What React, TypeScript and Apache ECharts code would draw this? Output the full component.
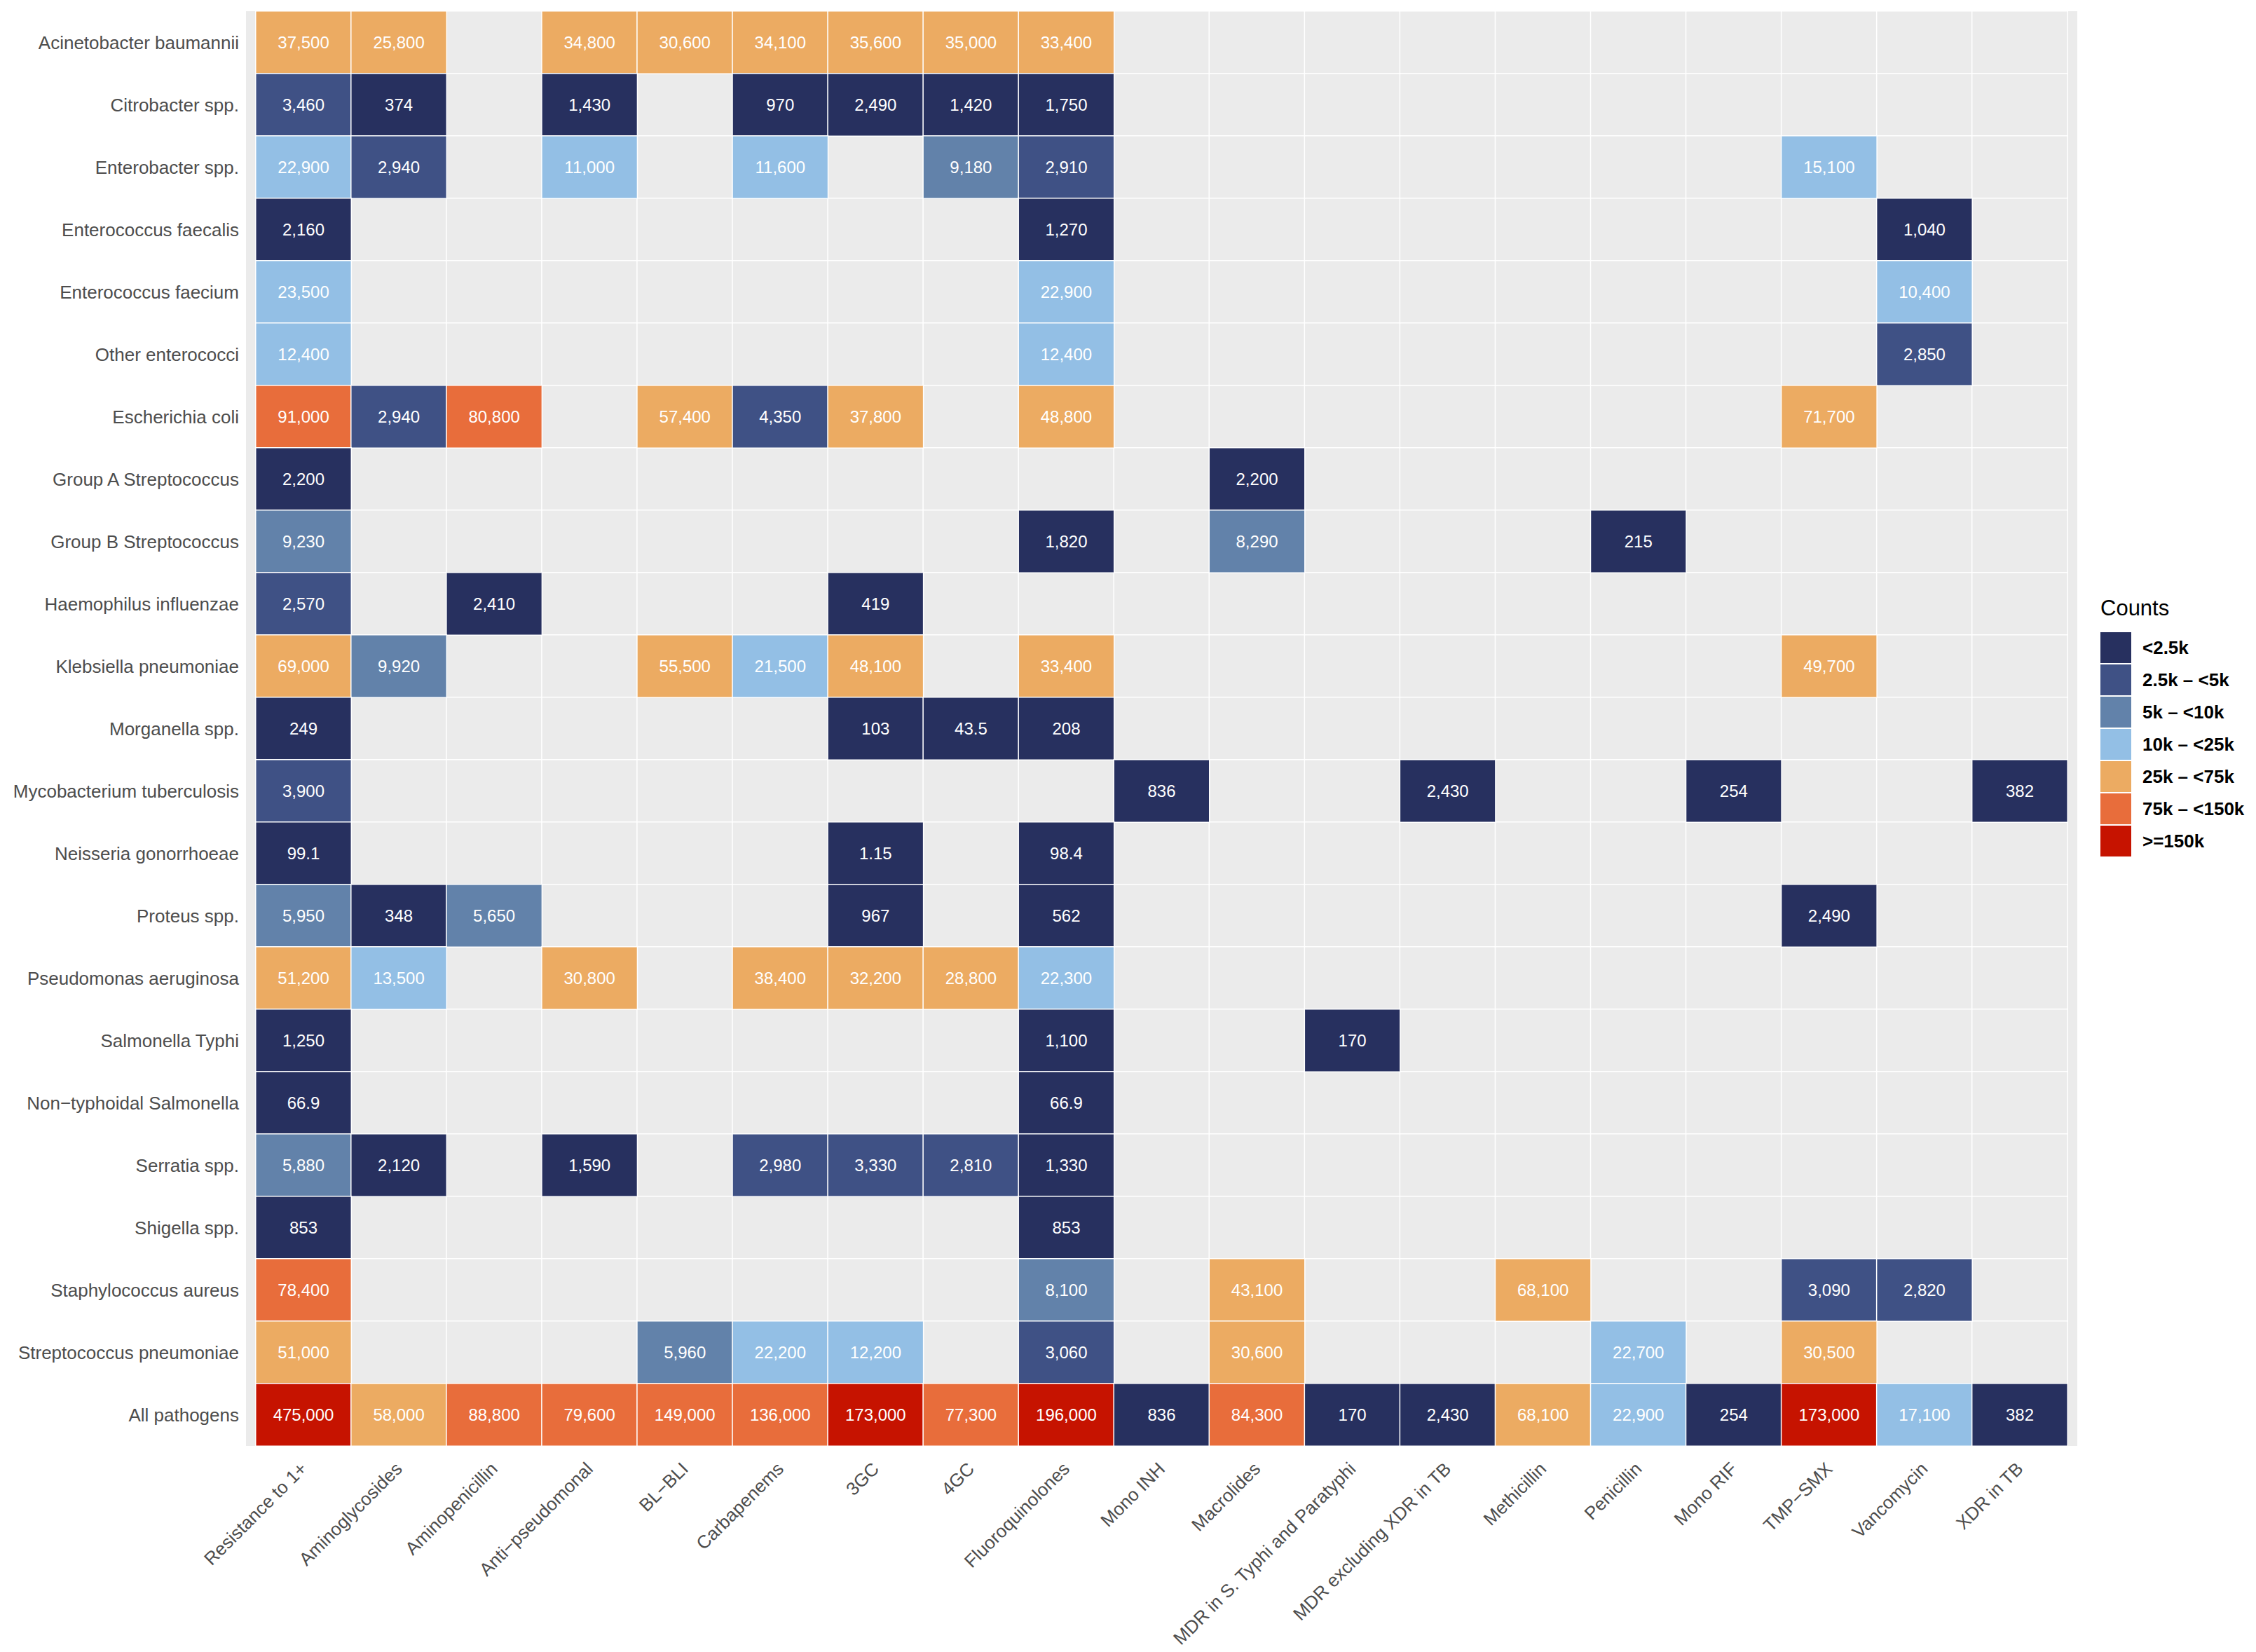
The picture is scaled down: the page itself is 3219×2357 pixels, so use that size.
import React, { useEffect, useRef } from "react";
import * as echarts from "echarts";

const pathogens = [
  "Acinetobacter baumannii",
  "Citrobacter spp.",
  "Enterobacter spp.",
  "Enterococcus faecalis",
  "Enterococcus faecium",
  "Other enterococci",
  "Escherichia coli",
  "Group A Streptococcus",
  "Group B Streptococcus",
  "Haemophilus influenzae",
  "Klebsiella pneumoniae",
  "Morganella spp.",
  "Mycobacterium tuberculosis",
  "Neisseria gonorrhoeae",
  "Proteus spp.",
  "Pseudomonas aeruginosa",
  "Salmonella Typhi",
  "Non\u2212typhoidal Salmonella",
  "Serratia spp.",
  "Shigella spp.",
  "Staphylococcus aureus",
  "Streptococcus pneumoniae",
  "All pathogens",
];

const resistanceTypes = [
  "Resistance to 1+",
  "Aminoglycosides",
  "Aminopenicillin",
  "Anti\u2212pseudomonal",
  "BL\u2212BLI",
  "Carbapenems",
  "3GC",
  "4GC",
  "Fluoroquinolones",
  "Mono INH",
  "Macrolides",
  "MDR in S. Typhi and Paratyphi",
  "MDR excluding XDR in TB",
  "Methicillin",
  "Penicillin",
  "Mono RIF",
  "TMP\u2212SMX",
  "Vancomycin",
  "XDR in TB",
];

const _ = null;
// one row per pathogen, one column per resistance type
const counts: (number | null)[][] = [
  [37500, 25800, _, 34800, 30600, 34100, 35600, 35000, 33400, _, _, _, _, _, _, _, _, _, _],
  [3460, 374, _, 1430, _, 970, 2490, 1420, 1750, _, _, _, _, _, _, _, _, _, _],
  [22900, 2940, _, 11000, _, 11600, _, 9180, 2910, _, _, _, _, _, _, _, 15100, _, _],
  [2160, _, _, _, _, _, _, _, 1270, _, _, _, _, _, _, _, _, 1040, _],
  [23500, _, _, _, _, _, _, _, 22900, _, _, _, _, _, _, _, _, 10400, _],
  [12400, _, _, _, _, _, _, _, 12400, _, _, _, _, _, _, _, _, 2850, _],
  [91000, 2940, 80800, _, 57400, 4350, 37800, _, 48800, _, _, _, _, _, _, _, 71700, _, _],
  [2200, _, _, _, _, _, _, _, _, _, 2200, _, _, _, _, _, _, _, _],
  [9230, _, _, _, _, _, _, _, 1820, _, 8290, _, _, _, 215, _, _, _, _],
  [2570, _, 2410, _, _, _, 419, _, _, _, _, _, _, _, _, _, _, _, _],
  [69000, 9920, _, _, 55500, 21500, 48100, _, 33400, _, _, _, _, _, _, _, 49700, _, _],
  [249, _, _, _, _, _, 103, 43.5, 208, _, _, _, _, _, _, _, _, _, _],
  [3900, _, _, _, _, _, _, _, _, 836, _, _, 2430, _, _, 254, _, _, 382],
  [99.1, _, _, _, _, _, 1.15, _, 98.4, _, _, _, _, _, _, _, _, _, _],
  [5950, 348, 5650, _, _, _, 967, _, 562, _, _, _, _, _, _, _, 2490, _, _],
  [51200, 13500, _, 30800, _, 38400, 32200, 28800, 22300, _, _, _, _, _, _, _, _, _, _],
  [1250, _, _, _, _, _, _, _, 1100, _, _, 170, _, _, _, _, _, _, _],
  [66.9, _, _, _, _, _, _, _, 66.9, _, _, _, _, _, _, _, _, _, _],
  [5880, 2120, _, 1590, _, 2980, 3330, 2810, 1330, _, _, _, _, _, _, _, _, _, _],
  [853, _, _, _, _, _, _, _, 853, _, _, _, _, _, _, _, _, _, _],
  [78400, _, _, _, _, _, _, _, 8100, _, 43100, _, _, 68100, _, _, 3090, 2820, _],
  [51000, _, _, _, 5960, 22200, 12200, _, 3060, _, 30600, _, _, _, 22700, _, 30500, _, _],
  [475000, 58000, 88800, 79600, 149000, 136000, 173000, 77300, 196000, 836, 84300, 170, 2430, 68100, 22900, 254, 173000, 17100, 382],
];

const binBreaks = [0, 2500, 5000, 10000, 25000, 75000, 150000];
const binLabels = ["<2.5k", "2.5k \u2013 <5k", "5k \u2013 <10k", "10k \u2013 <25k", "25k \u2013 <75k", "75k \u2013 <150k", ">=150k"];
const binColors = ["#27305F", "#3F5185", "#6282AA", "#93BFE5", "#ECAB62", "#E86D3B", "#C61300"];

const FONT = "'Liberation Sans', Arial, Helvetica, sans-serif";

export default function App() {
  const ref = useRef<HTMLDivElement>(null);

  useEffect(() => {
    if (!ref.current) return;
    const chart = echarts.init(ref.current, undefined, { renderer: "svg" });

    const filled: [number, number, number][] = [];
    const empty: [number, number, number][] = [];
    counts.forEach((row, yi) => {
      row.forEach((v, xi) => {
        if (v === null) empty.push([xi, yi, 0]);
        else filled.push([xi, yi, v]);
      });
    });

    const pieces = binLabels.map((label, i) => {
      const p: any = { label, color: binColors[i] };
      if (i > 0) p.gte = binBreaks[i];
      if (i < binBreaks.length - 1) p.lt = binBreaks[i + 1];
      return p;
    });

    const gridLeft = 365;
    const gridRight = 269;
    const gridTop = 16;
    const gridBottom = 294;

    chart.setOption({
      animation: false,
      backgroundColor: "#ffffff",
      textStyle: { fontFamily: FONT },
      grid: { left: gridLeft, right: gridRight, top: gridTop, bottom: gridBottom, containLabel: false },
      xAxis: {
        type: "category",
        data: resistanceTypes,
        axisLine: { show: false },
        axisTick: { show: false },
        splitLine: { show: false },
        axisLabel: {
          rotate: 45,
          interval: 0,
          margin: 28,
          color: "#4D4D4D",
          fontSize: 26,
          fontFamily: FONT,
        },
      },
      yAxis: {
        type: "category",
        data: pathogens,
        inverse: true,
        axisLine: { show: false },
        axisTick: { show: false },
        splitLine: { show: false },
        axisLabel: {
          interval: 0,
          margin: 24,
          color: "#4D4D4D",
          fontSize: 26,
          fontFamily: FONT,
        },
      },
      visualMap: [
        {
          type: "piecewise",
          seriesIndex: 1,
          dimension: 2,
          pieces,
          orient: "vertical",
          inverse: true,
          align: "left",
          left: 2997,
          top: 902,
          padding: 0,
          itemWidth: 44,
          itemHeight: 44,
          itemGap: 2,
          itemSymbol: "rect",
          textGap: 16,
          selectedMode: false,
          textStyle: { fontSize: 26, fontWeight: "bold", color: "#000000", fontFamily: FONT },
        },
        {
          type: "piecewise",
          show: false,
          seriesIndex: 0,
          dimension: 2,
          pieces: [{ gte: -1, lte: 1, color: "#EBEBEB" }],
        },
      ],
      graphic: [
        {
          type: "rect",
          z: 0,
          silent: true,
          shape: { x: 351, y: gridTop, width: 2964 - 351, height: 2063 - gridTop },
          style: { fill: "#EBEBEB" },
        },
        {
          type: "text",
          left: 2997,
          top: 852,
          style: { text: "Counts", fontSize: 31, fill: "#000000", fontFamily: FONT },
        },
      ],
      series: [
        {
          type: "heatmap",
          data: empty,
          itemStyle: { borderColor: "#ffffff", borderWidth: 1.5 },
          label: { show: false },
          emphasis: { disabled: true },
          silent: true,
        },
        {
          type: "heatmap",
          data: filled,
          itemStyle: { borderColor: "#ffffff", borderWidth: 1.5 },
          label: {
            show: true,
            color: "#ffffff",
            fontSize: 24,
            fontFamily: FONT,
            formatter: (p: any) => Number(p.value[2]).toLocaleString("en-US", { maximumFractionDigits: 2 }),
          },
          emphasis: { disabled: true },
        },
      ],
    });

    return () => chart.dispose();
  }, []);

  return (
    <div
      ref={ref}
      style={{ position: "fixed", left: 0, top: 0, width: 3219, height: 2357, background: "#fff" }}
    />
  );
}
